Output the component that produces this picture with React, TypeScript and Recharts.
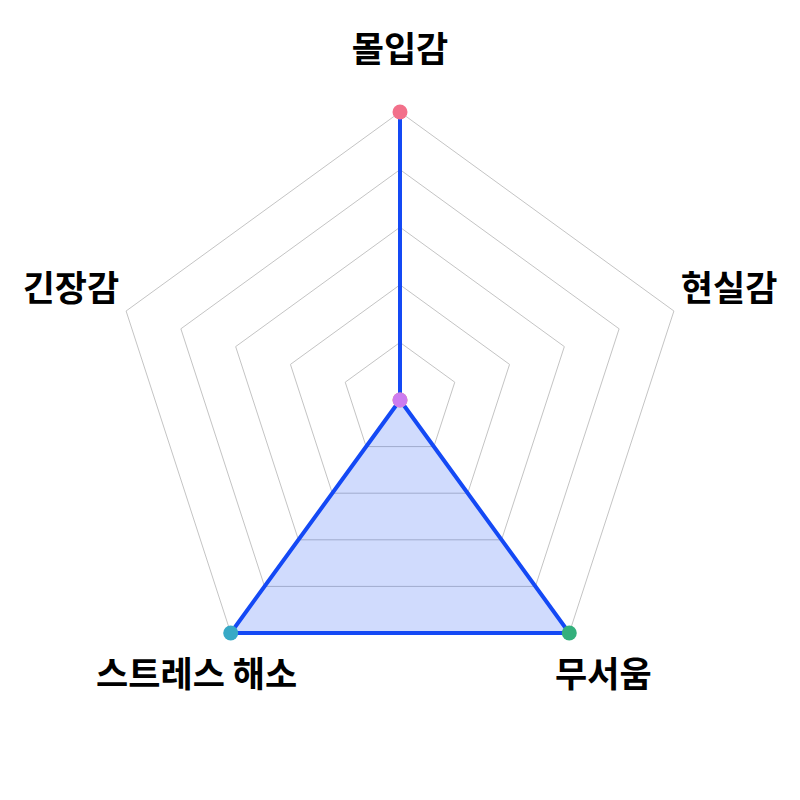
import { RadarChart, Radar, PolarGrid, PolarAngleAxis, PolarRadiusAxis } from "recharts";

const axes = ["몰입감", "현실감", "무서움", "스트레스 해소", "긴장감"];
const scores = [5, 0, 5, 5, 0];
const dotColors = ["#f2708a", "#f5a35c", "#34b07c", "#37a9c6", "#cd7cef"];

const data = axes.map((subject, i) => ({ subject, score: scores[i] }));

const CX = 400;
const CY = 400;
const OUTER = 288;
const LABEL_R = 346;

function AxisLabel(props: any) {
  const { x, y, payload } = props;
  const dx = x - CX;
  const dy = y - CY;
  const len = Math.sqrt(dx * dx + dy * dy) || 1;
  const lx = CX + (dx / len) * LABEL_R;
  const ly = CY + (dy / len) * LABEL_R - 8;
  return (
    <text
      x={lx}
      y={ly}
      textAnchor="middle"
      dominantBaseline="central"
      fontFamily="'Noto Sans CJK KR', sans-serif"
      fontWeight="bold"
      fontSize={35}
      fill="#000"
    >
      {payload.value}
    </text>
  );
}

function ColorDot(props: any) {
  const { cx, cy, index } = props;
  return <circle key={index} cx={cx} cy={cy} r={7.5} fill={dotColors[index]} />;
}

export default function App() {
  return (
    <div style={{ position: "absolute", left: 0, top: 0, background: "#fff" }}>
      <RadarChart width={800} height={800} cx={CX} cy={CY} outerRadius={OUTER} data={data}>
        <PolarGrid gridType="polygon" radialLines={false} stroke="#c4c4c4" strokeWidth={1} />
        <PolarAngleAxis dataKey="subject" tick={<AxisLabel />} tickLine={false} axisLine={false} />
        <PolarRadiusAxis domain={[0, 5]} tickCount={6} tick={false} axisLine={false} />
        <Radar
          dataKey="score"
          stroke="#1449f5"
          strokeWidth={4}
          fill="#1449f5"
          fillOpacity={0.2}
          dot={<ColorDot />}
          isAnimationActive={false}
        />
      </RadarChart>
    </div>
  );
}
